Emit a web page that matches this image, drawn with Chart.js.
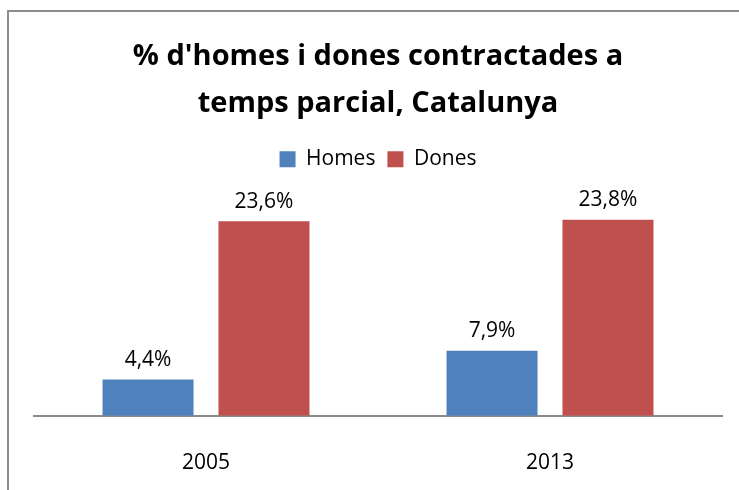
<!DOCTYPE html>
<html lang="ca">
<head>
  <meta charset="UTF-8" />
  <title>% d'homes i dones contractades a temps parcial</title>
  <script src="https://cdn.jsdelivr.net/npm/chart.js"></script>
  <style>
    body {
      margin: 0;
      padding: 0;
      background: white;
    }

    .container {
      width: 739px;
      height: 490px;
      position: relative;
    }
  </style>
</head>
<body>
  <div class="container">
    <canvas id="partTimeChart" width="739" height="490"></canvas>
  </div>

  <script>
    const years = ['2005', '2013'];
    const homes = [4.4, 7.9];
    const dones = [23.6, 23.8];
    const seriesNames = ['Homes', 'Dones'];
    const titleLines = ["% d'homes i dones contractades a", 'temps parcial, Catalunya'];

    const labelFont = "'Open Sans', sans-serif";

    // outer frame like the spreadsheet chart area
    const framePlugin = {
      id: 'frame',
      beforeDraw(chart) {
        const ctx = chart.ctx;
        ctx.save();
        ctx.strokeStyle = '#8c8c8c';
        ctx.lineWidth = 2;
        ctx.strokeRect(8, 11, 800, 600);
        ctx.restore();
      }
    };

    // leave room under the legend for the value labels (plot area starts lower)
    const legendGap = {
      id: 'legendGap',
      beforeInit(chart) {
        const fit = chart.legend.fit;
        chart.legend.fit = function () {
          fit.call(this);
          this.height += 30;
        };
      }
    };

    // value labels above each bar
    const valueLabels = {
      id: 'valueLabels',
      afterDatasetsDraw(chart) {
        const ctx = chart.ctx;
        ctx.save();
        ctx.font = '21px ' + labelFont;
        ctx.fillStyle = '#000';
        ctx.textAlign = 'center';
        ctx.textBaseline = 'bottom';
        chart.data.datasets.forEach((ds, i) => {
          chart.getDatasetMeta(i).data.forEach((bar, j) => {
            const txt = ds.data[j].toFixed(1).replace('.', ',') + '%';
            ctx.fillText(txt, bar.x, bar.y - 9);
          });
        });
        ctx.restore();
      }
    };

    new Chart(document.getElementById('partTimeChart'), {
      type: 'bar',
      data: {
        labels: years,
        datasets: [
          { label: seriesNames[0], data: homes, backgroundColor: '#4f81bd' },
          { label: seriesNames[1], data: dones, backgroundColor: '#c0504d' }
        ]
      },
      options: {
        responsive: false,
        animation: false,
        barPercentage: 0.785,
        categoryPercentage: 0.674,
        layout: {
          padding: { left: 34, right: 17, top: 34, bottom: -13 }
        },
        plugins: {
          title: {
            display: true,
            text: titleLines,
            color: '#000',
            font: { family: "'Open Sans', sans-serif", size: 29, weight: 'bold', lineHeight: 1.6 },
            padding: { top: 0, bottom: 10 }
          },
          legend: {
            display: true,
            labels: {
              color: '#000',
              font: { family: labelFont, size: 21 },
              boxWidth: 16,
              boxHeight: 16,
              padding: 12
            }
          },
          tooltip: { enabled: false }
        },
        scales: {
          x: {
            grid: { display: false },
            border: { color: '#8c8c8c', width: 2 },
            ticks: {
              color: '#000',
              font: { family: labelFont, size: 21 },
              padding: 27
            }
          },
          y: {
            display: false,
            min: 0,
            max: 25
          }
        }
      },
      plugins: [framePlugin, legendGap, valueLabels]
    });
  </script>
</body>
</html>
